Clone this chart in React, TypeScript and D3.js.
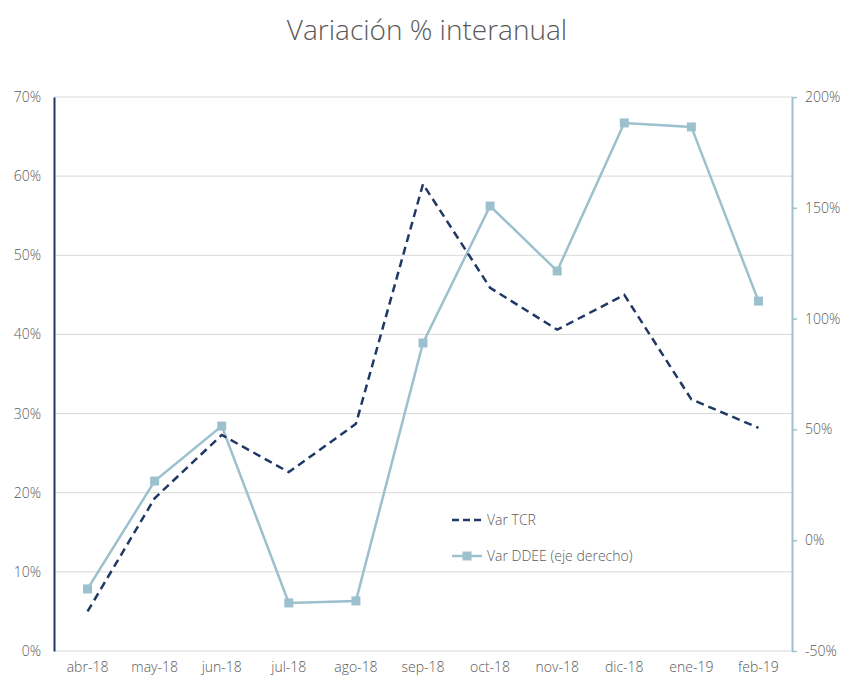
import React, { useEffect, useRef } from 'react';
import * as d3 from 'd3';

const months = ['abr-18', 'may-18', 'jun-18', 'jul-18', 'ago-18', 'sep-18', 'oct-18', 'nov-18', 'dic-18', 'ene-19', 'feb-19'];
const varTCR = [5.0, 19.3, 27.3, 22.6, 28.7, 59.0, 45.9, 40.6, 45.0, 31.8, 28.2];
const varDDEE = [-22.0, 26.7, 51.5, -28.3, -27.4, 89.0, 150.8, 121.5, 188.3, 186.5, 107.9];
const leftTicks = [0, 10, 20, 30, 40, 50, 60, 70];
const rightTicks = [-50, 0, 50, 100, 150, 200];

const FONT = '"Open Sans", Lato, sans-serif';

export default function App() {
  const svgRef = useRef<SVGSVGElement | null>(null);

  useEffect(() => {
    if (!svgRef.current) return;
    const svg = d3.select(svgRef.current);
    svg.selectAll('*').remove();

    const width = 841;
    const height = 677;
    const margin = { top: 97, right: 49, bottom: 26, left: 54 };

    const x = d3.scaleBand()
      .domain(months)
      .range([margin.left, width - margin.right]);
    const yL = d3.scaleLinear().domain([0, 70]).range([height - margin.bottom, margin.top]);
    const yR = d3.scaleLinear().domain([-50, 200]).range([height - margin.bottom, margin.top]);
    const cx = (d: string) => (x(d) || 0) + x.bandwidth() / 2;

    svg.append('text')
      .attr('x', 427)
      .attr('y', 40)
      .attr('text-anchor', 'middle')
      .attr('font-family', FONT)
      .attr('font-size', 28)
      .attr('font-weight', 300)
      .attr('fill', '#595959')
      .text('Variación % interanual');

    // gridlines
    svg.append('g')
      .selectAll('line')
      .data(leftTicks)
      .join('line')
        .attr('x1', margin.left)
        .attr('x2', width - margin.right)
        .attr('y1', d => yL(d))
        .attr('y2', d => yL(d))
        .attr('stroke', '#d9d9d9')
        .attr('stroke-width', 1);

    // left axis
    const gL = svg.append('g')
      .attr('transform', `translate(${margin.left},0)`)
      .call(d3.axisLeft(yL).tickValues(leftTicks).tickSize(0).tickPadding(13).tickFormat(d => `${d}%`));
    gL.select('.domain').attr('stroke', '#1f3864').attr('stroke-width', 2);
    gL.selectAll('text').attr('font-family', FONT).attr('font-size', 14).attr('font-weight', 300).attr('fill', '#595959');

    // right axis
    const gR = svg.append('g')
      .attr('transform', `translate(${width - margin.right},0)`)
      .call(d3.axisRight(yR).tickValues(rightTicks).tickSize(5).tickSizeOuter(0).tickPadding(8).tickFormat(d => `${d}%`));
    gR.select('.domain').attr('stroke', '#9dc0ce').attr('stroke-width', 2);
    gR.selectAll('.tick line').attr('stroke', '#9dc0ce').attr('stroke-width', 1.5);
    gR.selectAll('text').attr('font-family', FONT).attr('font-size', 14).attr('font-weight', 300).attr('fill', '#595959');

    // bottom labels
    const gB = svg.append('g')
      .attr('transform', `translate(0,${height - margin.bottom})`)
      .call(d3.axisBottom(x).tickSize(0).tickPadding(11));
    gB.select('.domain').remove();
    gB.selectAll('text').attr('font-family', FONT).attr('font-size', 14).attr('font-weight', 300).attr('fill', '#595959');

    const lineL = d3.line<number>().x((_, i) => cx(months[i])).y(d => yL(d));
    const lineR = d3.line<number>().x((_, i) => cx(months[i])).y(d => yR(d));

    svg.append('path')
      .datum(varDDEE)
      .attr('d', lineR)
      .attr('fill', 'none')
      .attr('stroke', '#9dc0ce')
      .attr('stroke-width', 2.5);
    svg.append('g')
      .selectAll('rect')
      .data(varDDEE)
      .join('rect')
        .attr('x', (_, i) => cx(months[i]) - 4.5)
        .attr('y', d => yR(d) - 4.5)
        .attr('width', 9)
        .attr('height', 9)
        .attr('fill', '#9dc0ce');

    svg.append('path')
      .datum(varTCR)
      .attr('d', lineL)
      .attr('fill', 'none')
      .attr('stroke', '#1f3864')
      .attr('stroke-width', 2.5)
      .attr('stroke-dasharray', '8,5');

    // legend
    const lg = svg.append('g').attr('font-family', FONT).attr('font-size', 14).attr('font-weight', 300).attr('fill', '#595959');
    lg.append('line')
      .attr('x1', 452).attr('x2', 482).attr('y1', 520).attr('y2', 520)
      .attr('stroke', '#1f3864').attr('stroke-width', 2.5).attr('stroke-dasharray', '7,4');
    lg.append('text').attr('x', 487).attr('y', 525).text('Var TCR');
    lg.append('line')
      .attr('x1', 452).attr('x2', 482).attr('y1', 556).attr('y2', 556)
      .attr('stroke', '#9dc0ce').attr('stroke-width', 2.5);
    lg.append('rect').attr('x', 462.5).attr('y', 551.5).attr('width', 9).attr('height', 9).attr('fill', '#9dc0ce');
    lg.append('text').attr('x', 487).attr('y', 561).text('Var DDEE (eje derecho)');
  }, []);

  return (
    <div style={{ position: 'fixed', left: 0, top: 0, width: 841, height: 677, overflow: 'hidden', background: '#fff' }}>
      <svg ref={svgRef} width={841} height={677} style={{ display: 'block' }} />
    </div>
  );
}
